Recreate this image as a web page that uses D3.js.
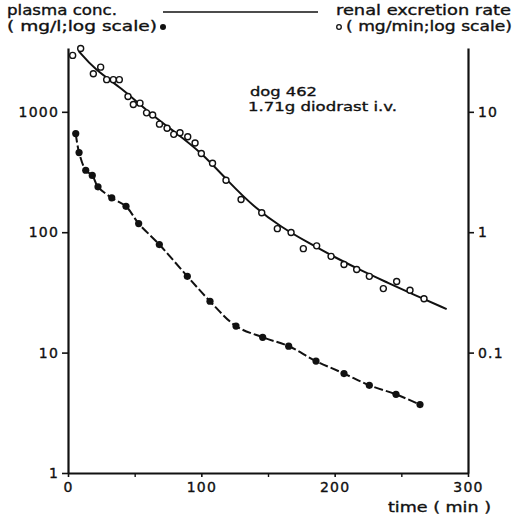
<!DOCTYPE html>
<html>
<head>
<meta charset="utf-8">
<script src="https://cdn.jsdelivr.net/npm/d3@7"></script>
<style>
  body { margin: 0; background: #fff; }
  svg text { font-family: "DejaVu Sans", sans-serif; fill: #111; stroke: #111; stroke-width: 0.35px; }
</style>
</head>
<body>
<svg id="chart" width="518" height="515"></svg>
<script>
// plasma concentration (mg/l), filled circles
const plasmaTime = [5.8, 8.3, 13.3, 18.2, 22.5, 32.8, 43.5, 53, 68.5, 89.5, 106.5, 126, 146, 165.5, 186, 207, 226, 246, 264];
const plasmaConc = [659, 459, 327, 296, 238, 193, 164, 118, 79, 43, 26.7, 16.6, 13.4, 11.3, 8.5, 6.7, 5.35, 4.5, 3.7];

// renal excretion rate (mg/min), open circles
const renalTime = [3.5, 9.5, 19, 24.5, 29, 34, 38.5, 45, 49, 54, 58.9, 63.5, 68.6, 74.3, 79.3, 84, 89.8, 95.3, 100, 108.4,
  118.5, 129.8, 145.3, 157, 167.3, 176.5, 186.5, 197.3, 207, 216.5, 226, 236.5, 246.5, 256.5, 267];
const renalRate = [29.4, 33.6, 20.7, 23.5, 18.5, 18.5, 18.5, 13.4, 11.5, 11.8, 9.8, 9.4, 7.9, 7.3, 6.5, 6.7, 6.2, 5.5, 4.5, 3.74,
  2.7, 1.87, 1.45, 1.07, 0.995, 0.73, 0.77, 0.63, 0.54, 0.49, 0.43, 0.34, 0.39, 0.33, 0.28];

// fitted curve through the excretion rate
const fitTime = [8, 20, 40, 60, 80, 100, 120, 140, 160, 180, 200, 220, 240, 260, 284];
const fitRate = [32, 22.5, 15.8, 10, 6.8, 4.6, 2.65, 1.6, 1.1, 0.82, 0.62, 0.48, 0.38, 0.3, 0.23];

const leftTicks = [1, 10, 100, 1000];
const rightTicks = [0.1, 1, 10];
const xTicks = [0, 100, 200, 300];
const xMinor = [50, 150, 250];

const svg = d3.select("#chart");

const x = d3.scaleLinear().domain([0, 300]).range([68, 468]);
const yl = d3.scaleLog().domain([1, Math.pow(10, 3.53)]).range([473, 48]);
const yr = d3.scaleLog().domain([0.01, Math.pow(10, 1.53)]).range([473, 48]);

const numFmt = d => d < 1 ? "0.1" : String(d);

function styleAxis(g) {
  g.select(".domain").attr("stroke", "#111").attr("stroke-width", 2.2);
  g.selectAll(".tick line").attr("stroke", "#111").attr("stroke-width", 1.6);
  g.selectAll(".tick text")
    .style("font-family", "DejaVu Sans, sans-serif")
    .style("font-size", "14px")
    .style("letter-spacing", "1.2px")
    .attr("fill", "#111");
}

svg.append("g")
  .attr("transform", "translate(68,0)")
  .call(d3.axisLeft(yl).tickValues(leftTicks).tickFormat(numFmt).tickSize(6).tickSizeOuter(0).tickPadding(3))
  .call(styleAxis);

svg.append("g")
  .attr("transform", "translate(468,0)")
  .call(d3.axisRight(yr).tickValues(rightTicks).tickFormat(numFmt).tickSize(6).tickSizeOuter(0).tickPadding(4))
  .call(styleAxis);

svg.append("g")
  .attr("transform", "translate(0,473)")
  .call(d3.axisBottom(x).tickValues(xTicks).tickFormat(d3.format("d")).tickSize(4).tickSizeOuter(0).tickPadding(5))
  .call(styleAxis);

svg.append("g")
  .attr("transform", "translate(0,473)")
  .call(d3.axisBottom(x).tickValues(xMinor).tickFormat("").tickSize(4).tickSizeOuter(0))
  .call(g => g.select(".domain").remove())
  .call(g => g.selectAll(".tick line").attr("stroke", "#111").attr("stroke-width", 1.4));

// plasma: dashed line through filled points
const plasma = plasmaTime.map((t, i) => ({ t, v: plasmaConc[i] }));
svg.append("path")
  .datum(plasma)
  .attr("fill", "none")
  .attr("stroke", "#111")
  .attr("stroke-width", 2)
  .attr("stroke-dasharray", "9,3")
  .attr("d", d3.line().x(d => x(d.t)).y(d => yl(d.v)).curve(d3.curveCatmullRom));

svg.append("g").selectAll("circle")
  .data(plasma)
  .join("circle")
  .attr("cx", d => x(d.t))
  .attr("cy", d => yl(d.v))
  .attr("r", 3.6)
  .attr("fill", "#111");

// renal: solid fitted curve and open points
const fit = fitTime.map((t, i) => ({ t, v: fitRate[i] }));
svg.append("path")
  .datum(fit)
  .attr("fill", "none")
  .attr("stroke", "#111")
  .attr("stroke-width", 2)
  .attr("d", d3.line().x(d => x(d.t)).y(d => yr(d.v)).curve(d3.curveBasis));

const renal = renalTime.map((t, i) => ({ t, v: renalRate[i] }));
svg.append("g").selectAll("circle")
  .data(renal)
  .join("circle")
  .attr("cx", d => x(d.t))
  .attr("cy", d => yr(d.v))
  .attr("r", 3)
  .attr("fill", "#fff")
  .attr("stroke", "#111")
  .attr("stroke-width", 1.4);

// headings
function label(txt, xx, yy, len, size) {
  const t = svg.append("text")
    .attr("x", xx).attr("y", yy)
    .style("font-size", (size || 14) + "px")
    .text(txt);
  if (len) t.attr("textLength", len).attr("lengthAdjust", "spacingAndGlyphs");
  return t;
}

label("plasma conc.", 7, 15, 110);
label("( mg/l;log scale)", 7, 31, 150);
svg.append("circle").attr("cx", 163).attr("cy", 27).attr("r", 3).attr("fill", "#111");

svg.append("line")
  .attr("x1", 163).attr("x2", 318)
  .attr("y1", 12).attr("y2", 12)
  .attr("stroke", "#111").attr("stroke-width", 1.6);

label("renal excretion rate", 336, 15, 175);
svg.append("circle").attr("cx", 339).attr("cy", 27).attr("r", 2.3)
  .attr("fill", "#fff").attr("stroke", "#111").attr("stroke-width", 1.3);
label("( mg/min;log scale)", 346, 31, 166);

label("dog 462", 250, 95.5, 67, 13);
label("1.71g diodrast i.v.", 248, 111, 149, 13);

label("time ( min )", 388, 512, 103);
</script>
</body>
</html>
